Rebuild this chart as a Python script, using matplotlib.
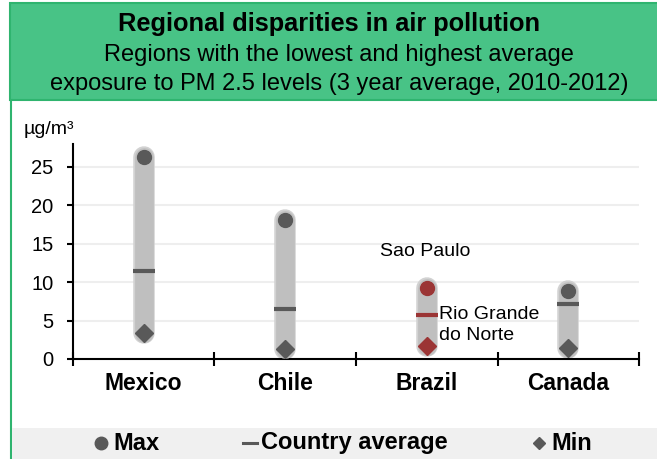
import matplotlib
matplotlib.use("Agg")
import matplotlib.pyplot as plt
from matplotlib.patches import Rectangle
from matplotlib.lines import Line2D

plt.rcParams['font.family'] = ['Liberation Sans', 'DejaVu Sans']

# PM2.5 exposure by country (µg/m³), 3-year average 2010-2012
countries = ['Mexico', 'Chile', 'Brazil', 'Canada']
max_vals = [26.2, 18.1, 9.2, 8.85]
avg_vals = [11.5, 6.45, 5.7, 7.15]
min_vals = [3.4, 1.25, 1.7, 1.4]
highlight = 'Brazil'
region_labels = {'max': 'Sao Paulo', 'min': 'Rio Grande\ndo Norte'}
legend_labels = ['Max', 'Country average', 'Min']
y_ticks = [0, 5, 10, 15, 20, 25]

GREY = '#595959'
RED = '#9b3535'
PILL = '#bfbfbf'
HALO = '#d2d2d2'
GREEN = '#48c386'
GREEN_EDGE = '#2fb46f'

W, H = 657, 459
fig = plt.figure(figsize=(W / 100, H / 100), dpi=100)
fig.patch.set_facecolor('white')


def fx(px):
    return px / W


def fy(py):
    return 1 - py / H


# Header panel and frame
fig.add_artist(Rectangle((fx(10), fy(100)), fx(660) - fx(10), fy(3) - fy(100),
                         transform=fig.transFigure, facecolor=GREEN,
                         edgecolor=GREEN_EDGE, linewidth=1.5, zorder=0))
fig.add_artist(Line2D([fx(10.5), fx(10.5)], [fy(100), fy(470)], transform=fig.transFigure,
                      color=GREEN_EDGE, linewidth=1.5, zorder=0))
fig.text(fx(329), fy(24), 'Regional disparities in air pollution', ha='center', va='center',
         fontsize=18.3, fontweight='bold', color='black')
fig.text(fx(339), fy(55), 'Regions with the lowest and highest average', ha='center',
         va='center', fontsize=17, color='black')
fig.text(fx(339), fy(84), 'exposure to PM 2.5 levels (3 year average, 2010-2012)',
         ha='center', va='center', fontsize=17, color='black')

# Legend band
fig.add_artist(Rectangle((fx(12), 0), 1, fy(428), transform=fig.transFigure,
                         facecolor='#f0f0f0', edgecolor='none', zorder=0))
ly = fy(443)
fig.add_artist(Line2D([fx(101)], [ly], transform=fig.transFigure, marker='o',
                      markersize=9, color=GREY, linestyle='none'))
fig.text(fx(113), ly, legend_labels[0], ha='left', va='center', fontsize=17,
         fontweight='bold')
fig.add_artist(Line2D([fx(243), fx(257)], [ly, ly], transform=fig.transFigure,
                      color=GREY, linewidth=2.2))
fig.text(fx(261), ly, legend_labels[1], ha='left', va='center', fontsize=17,
         fontweight='bold')
fig.add_artist(Line2D([fx(539)], [ly], transform=fig.transFigure, marker='D',
                      markersize=6, color=GREY, linestyle='none'))
fig.text(fx(551), ly, legend_labels[2], ha='left', va='center', fontsize=17,
         fontweight='bold')

# Units
fig.text(fx(24), fy(130), 'µg/m³', ha='left', va='center', fontsize=14)

# Main axes
x0, x1 = 72.7, 639.3
y_bottom, y_top = 359.0, 143.6
ax = fig.add_axes([fx(x0), fy(y_bottom), fx(x1) - fx(x0), (y_bottom - y_top) / H])
ax.set_xlim(0, len(countries))
ax.set_ylim(0, 28)
ax.set_facecolor('none')

for s in ['top', 'right']:
    ax.spines[s].set_visible(False)
for s in ['left', 'bottom']:
    ax.spines[s].set_linewidth(1.5)
    ax.spines[s].set_color('black')

ax.set_yticks(y_ticks)
ax.set_yticklabels([str(v) for v in y_ticks], fontsize=14.5)
ax.tick_params(axis='y', direction='out', length=4.5, width=1.5, pad=9.5)
ax.set_xticks(range(len(countries) + 1))
ax.set_xticklabels([])
ax.tick_params(axis='x', which='major', direction='inout', length=10, width=1.5)
ax.set_xticks([i + 0.5 for i in range(len(countries))], minor=True)
ax.set_xticklabels(countries, minor=True, fontsize=16.5, fontweight='bold')
ax.tick_params(axis='x', which='minor', length=0, pad=9)

for v in y_ticks[1:]:
    ax.axhline(v, color='#eeeeee', linewidth=1.5, zorder=0)

for i, c in enumerate(countries):
    xc = i + 0.5
    col = RED if c == highlight else GREY
    ax.plot([xc, xc], [min_vals[i], max_vals[i]], color=HALO, linewidth=15.5,
            solid_capstyle='round', zorder=2, clip_on=False)
    ax.plot([xc, xc], [min_vals[i], max_vals[i]], color=PILL, linewidth=13.5,
            solid_capstyle='round', zorder=3, clip_on=False)
    ax.plot([xc], [max_vals[i]], marker='o', markersize=10, color=col,
            linestyle='none', zorder=5, clip_on=False)
    ax.plot([xc], [avg_vals[i]], marker='_', markersize=16, markeredgewidth=3,
            color=col, linestyle='none', zorder=5, clip_on=False)
    ax.plot([xc], [min_vals[i]], marker='D', markersize=9, color=col,
            linestyle='none', zorder=5, clip_on=False)

bi = countries.index(highlight)
ax.text(bi + 0.17, 13.95, region_labels['max'], ha='left', va='center', fontsize=14)
ax.text(bi + 0.587, 4.4, region_labels['min'], ha='left', va='center', fontsize=14,
        linespacing=1.3)

fig.savefig('out.png', dpi=100)
